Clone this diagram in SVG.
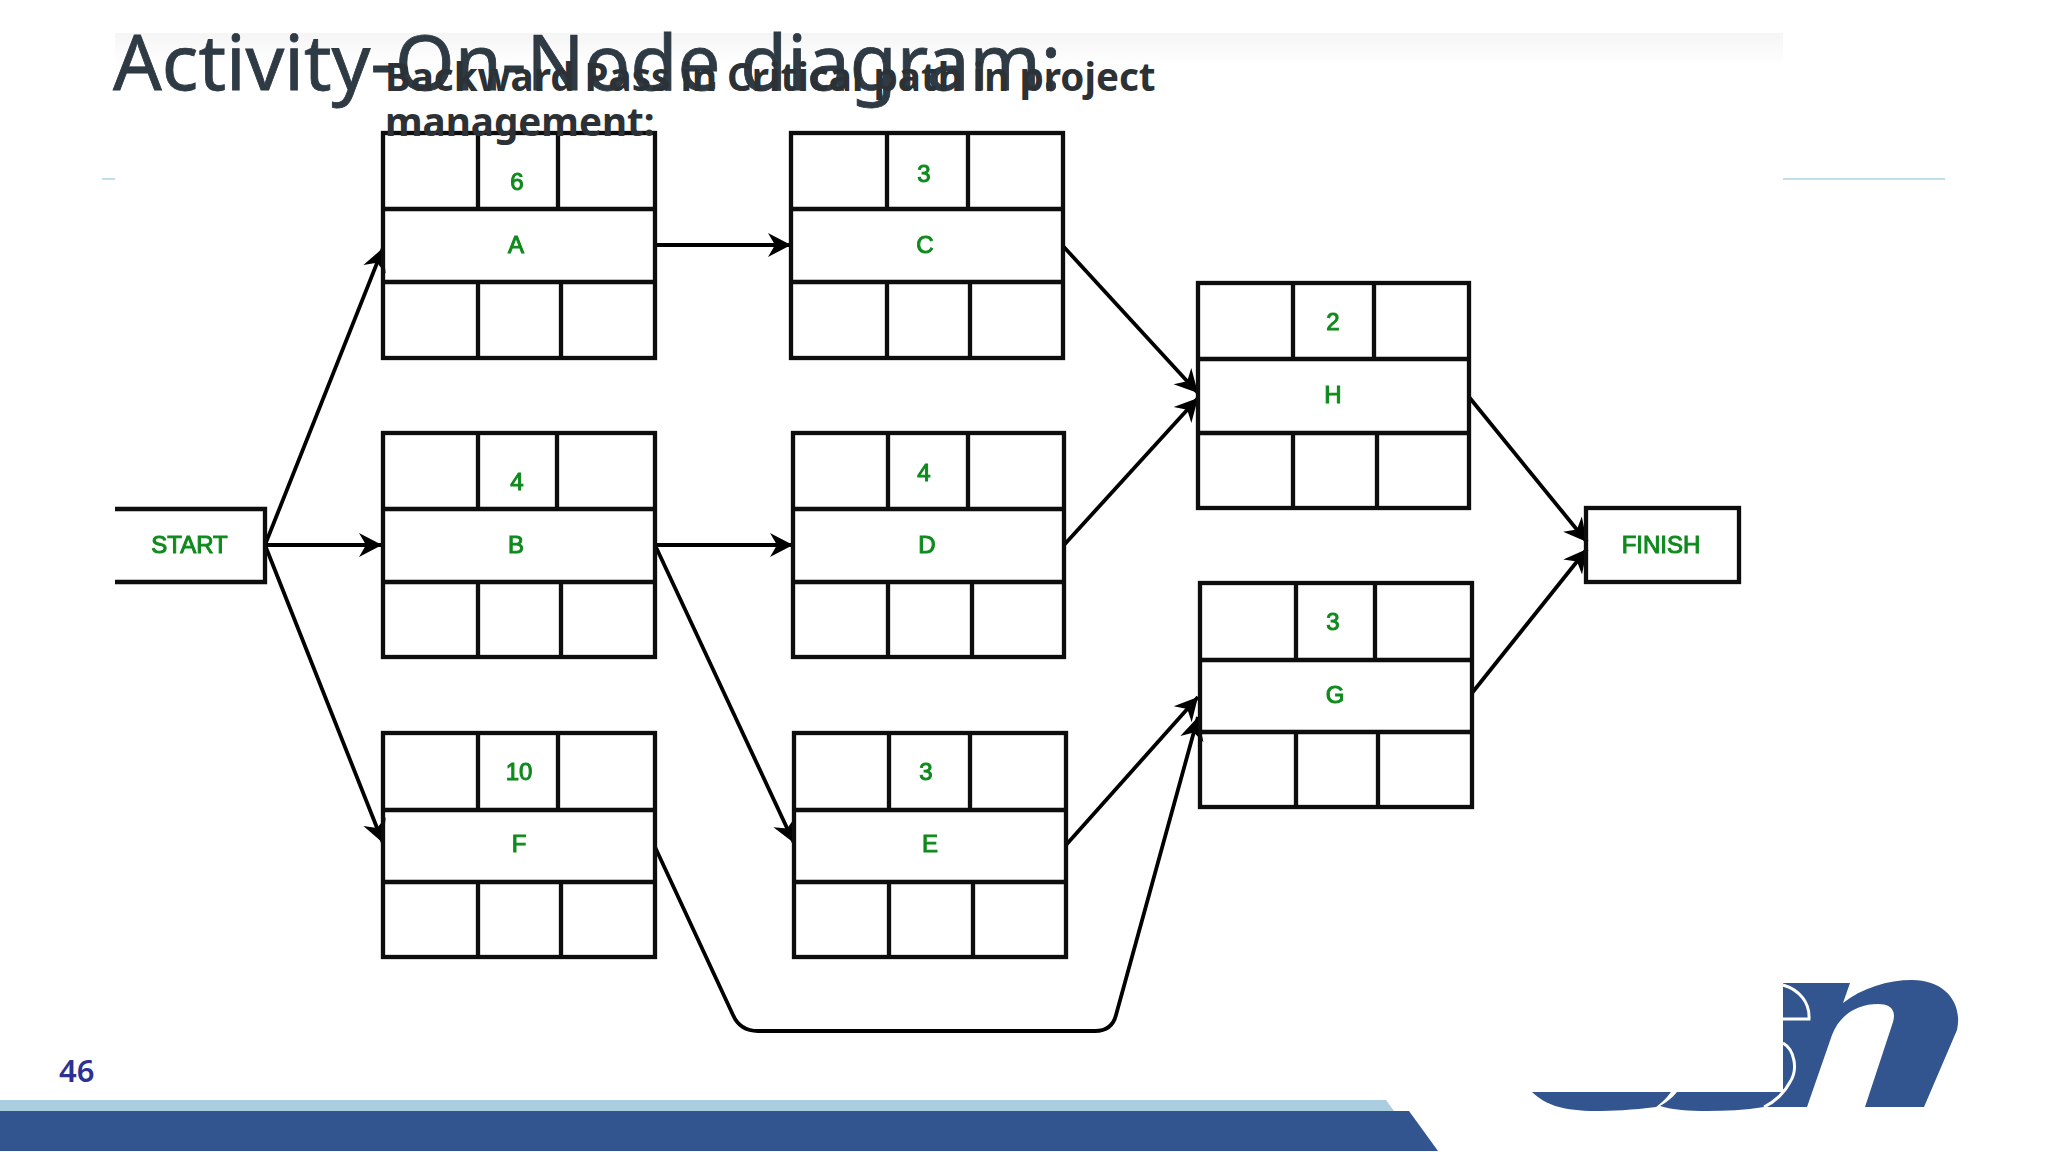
<svg xmlns="http://www.w3.org/2000/svg" width="2048" height="1152" viewBox="0 0 2048 1152">
<style>
.b{fill:none;stroke:#111;stroke-width:4.300}
.c{fill:none;stroke:#000;stroke-width:3.8;marker-end:url(#ah)}
.t{font-family:"Liberation Sans",Arial,sans-serif;font-size:24px;fill:#128a1c;stroke:#128a1c;stroke-width:1;text-anchor:middle}
.h{font-family:"Noto Sans","Open Sans",sans-serif;font-weight:700;font-size:38.6px;fill:#2c3136}
</style>
<defs>
<marker id="ah" markerUnits="userSpaceOnUse" markerWidth="28" markerHeight="28" refX="24" refY="14" orient="auto"><path d="M1,2 L24,14 L1,26 L8,14 Z" fill="#000"/></marker>
<linearGradient id="tb" x1="0" y1="0" x2="0" y2="1"><stop offset="0" stop-color="#f5f5f5"/><stop offset="1" stop-color="#fff"/></linearGradient>
<filter id="s" x="-5%" y="-5%" width="110%" height="110%"><feGaussianBlur stdDeviation=".7"/></filter>
</defs>
<rect width="2048" height="1152" fill="#fff"/>
<g id="header">
<rect x="115" y="33" width="1668" height="32" fill="url(#tb)"/>
<rect x="102" y="178" width="13" height="2" fill="#bfe0ea"/>
<rect x="1783" y="178" width="162" height="2" fill="#bfe0ea"/>
<text x="113" y="90" font-family="'Noto Sans','Open Sans',sans-serif" font-size="76.300" fill="#2f3a44" stroke="#2f3a44" stroke-width=".8" filter="url(#s)">Activity-On-Node diagram:</text>
</g>
<g id="footer">
<path d="M0,1100 H1386 L1394,1111 H0Z" fill="#aacde0"/>
<path d="M0,1111 H1409 L1438,1151 H0Z" fill="#32548f"/>
<text x="59" y="1082" font-family="'Noto Sans','Open Sans',sans-serif" font-weight="600" font-size="31" fill="#2e3192">46</text>
</g>
<g id="logo">
<path d="M1783,983 L1850,983 L1843,1003 C1862,988 1888,980 1912,980 C1945,980 1963,1003 1957,1030 L1924,1107 L1865,1107 L1893,1022 C1897,1008 1888,1004 1878,1004 C1858,1004 1840,1014 1832,1035 L1807,1107 L1764,1107 L1783,1092Z" fill="#32548f"/>
<path d="M1532,1092 L1671,1092 C1666,1099 1661,1103 1656,1107 C1632,1110 1612,1111 1595,1111 C1565,1111 1545,1105 1532,1092Z" fill="#32548f"/>
<path d="M1677,1092 L1783,1092 L1764,1107 C1745,1110 1725,1111 1706,1111 C1690,1111 1672,1110 1660,1106 C1667,1102 1672,1098 1677,1092Z" fill="#32548f"/>
<path d="M1783,985 C1800,990 1810,1003 1809,1019 L1783,1019 M1783,1043 C1795,1050 1798,1070 1790,1082 C1785,1092 1775,1102 1764,1107" fill="none" stroke="#fff" stroke-width="3"/>
</g>
<g id="connectors" filter="url(#s)">
<path class="c" d="M265,545 L383,248"/>
<path class="c" d="M265,545 L382,545"/>
<path class="c" d="M265,545 L383,843"/>
<path class="c" d="M655,245 L791,245"/>
<path class="c" d="M655,545 L793,545"/>
<path class="c" d="M655,545 L794,843"/>
<path class="c" d="M1063,246 L1198,393"/>
<path class="c" d="M1064,545 L1198,398"/>
<path class="c" d="M1469,397 L1587,542"/>
<path class="c" d="M1472,693 L1587,549"/>
<path class="c" d="M1066,845 L1198,697"/>
<path class="c" d="M655,847 L733,1015 Q740,1031 758,1031 L1095,1031 Q1112,1031 1116,1015 L1198,717"/>
</g>
<g id="node-start" filter="url(#s)"><path class="b" d="M115,509 H265 V582 H115"/><text class="t" x="189.500" y="553">START</text></g>
<g id="node-finish" filter="url(#s)"><rect class="b" x="1586" y="508" width="153" height="74"/><text class="t" x="1661" y="553">FINISH</text></g>
<g id="node-a" filter="url(#s)"><rect class="b" x="383" y="133" width="272" height="225"/><path class="b" d="M383,209 H655 M383,282 H655 M478,133 V209 M558,133 V209 M478,282 V358 M561,282 V358"/><text class="t" x="517" y="190">6</text><text class="t" x="516" y="253">A</text></g>
<g id="node-b" filter="url(#s)"><rect class="b" x="383" y="433" width="272" height="224"/><path class="b" d="M383,509 H655 M383,582 H655 M478,433 V509 M557,433 V509 M478,582 V657 M561,582 V657"/><text class="t" x="517" y="490">4</text><text class="t" x="516" y="553">B</text></g>
<g id="node-f" filter="url(#s)"><rect class="b" x="383" y="733" width="272" height="224"/><path class="b" d="M383,810 H655 M383,882 H655 M478,733 V810 M558,733 V810 M478,882 V957 M561,882 V957"/><text class="t" x="519" y="780">10</text><text class="t" x="519" y="852">F</text></g>
<g id="node-c" filter="url(#s)"><rect class="b" x="791" y="133" width="272" height="225"/><path class="b" d="M791,209 H1063 M791,282 H1063 M887,133 V209 M968,133 V209 M887,282 V358 M970,282 V358"/><text class="t" x="924" y="182">3</text><text class="t" x="925" y="253">C</text></g>
<g id="node-d" filter="url(#s)"><rect class="b" x="793" y="433" width="271" height="224"/><path class="b" d="M793,509 H1064 M793,582 H1064 M888,433 V509 M968,433 V509 M888,582 V657 M972,582 V657"/><text class="t" x="924" y="481">4</text><text class="t" x="927" y="553">D</text></g>
<g id="node-e" filter="url(#s)"><rect class="b" x="794" y="733" width="272" height="224"/><path class="b" d="M794,810 H1066 M794,882 H1066 M889,733 V810 M970,733 V810 M889,882 V957 M973,882 V957"/><text class="t" x="926" y="780">3</text><text class="t" x="930" y="852">E</text></g>
<g id="node-h" filter="url(#s)"><rect class="b" x="1198" y="283" width="271" height="225"/><path class="b" d="M1198,359 H1469 M1198,433 H1469 M1293,283 V359 M1374,283 V359 M1293,433 V508 M1377,433 V508"/><text class="t" x="1333" y="330">2</text><text class="t" x="1333" y="403">H</text></g>
<g id="node-g" filter="url(#s)"><rect class="b" x="1200" y="583" width="272" height="224"/><path class="b" d="M1200,660 H1472 M1200,732 H1472 M1296,583 V660 M1375,583 V660 M1296,732 V807 M1378,732 V807"/><text class="t" x="1333" y="630">3</text><text class="t" x="1335" y="703">G</text></g>
<g id="subtitle">
<text class="h" x="385" y="91">Backward Pass in Critical path in project</text>
<text class="h" x="385" y="136">management:</text>
</g>
</svg>
